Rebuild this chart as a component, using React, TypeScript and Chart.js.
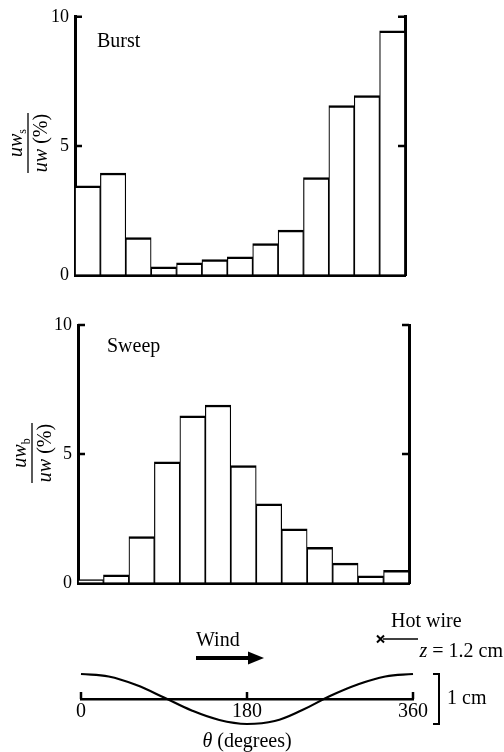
import React, { useEffect, useRef } from 'react';
import { Chart, registerables } from 'chart.js';

Chart.register(...registerables);

const FONT = "'Liberation Serif', 'Times New Roman', 'DejaVu Serif', serif";

// ---- data ----
const BINS = ['1', '2', '3', '4', '5', '6', '7', '8', '9', '10', '11', '12', '13'];
const BURST = [3.45, 3.95, 1.45, 0.32, 0.47, 0.6, 0.7, 1.22, 1.74, 3.77, 6.56, 6.95, 9.46];
const SWEEP = [0.13, 0.32, 1.8, 4.7, 6.48, 6.9, 4.55, 3.07, 2.1, 1.38, 0.77, 0.28, 0.49];
const Y_MIN = 0;
const Y_MAX = 10;
const Y_STEP = 5;
const THETA_MIN = 0;
const THETA_MAX = 360;
const THETA_STEP = 180;
const WAVE_DEG = [0, 30, 60, 90, 120, 150, 180, 210, 240, 270, 300, 330, 360];
const WAVE_CM = [0.5, 0.45, 0.28, 0.03, -0.23, -0.42, -0.5, -0.44, -0.22, 0.06, 0.29, 0.45, 0.5];

const W = 504;

type Seg = { t: string; italic?: boolean; sub?: boolean };

function segFont(s: Seg, size: number) {
  const sz = s.sub ? Math.round(size * 0.62) : size;
  return `${s.italic ? 'italic ' : ''}${sz}px ${FONT}`;
}

function drawSegs(ctx: CanvasRenderingContext2D, segs: Seg[], x: number, y: number, size: number, align: 'left' | 'center' | 'right') {
  ctx.save();
  ctx.textAlign = 'left';
  ctx.textBaseline = 'alphabetic';
  ctx.fillStyle = '#000';
  let total = 0;
  const widths = segs.map((s) => {
    ctx.font = segFont(s, size);
    const w = ctx.measureText(s.t).width;
    total += w;
    return w;
  });
  let cx = align === 'left' ? x : align === 'center' ? x - total / 2 : x - total;
  segs.forEach((s, i) => {
    ctx.font = segFont(s, size);
    ctx.fillText(s.t, cx, s.sub ? y + size * 0.22 : y);
    cx += widths[i];
  });
  ctx.restore();
}

function drawFraction(ctx: CanvasRenderingContext2D, cx: number, cy: number, num: Seg[], den: Seg[], size: number) {
  ctx.save();
  ctx.translate(cx, cy);
  ctx.rotate(-Math.PI / 2);
  drawSegs(ctx, num, 0, -6, size, 'center');
  drawSegs(ctx, den, 0, 19, size, 'center');
  ctx.beginPath();
  ctx.moveTo(-30, 0);
  ctx.lineTo(30, 0);
  ctx.lineWidth = 1.3;
  ctx.strokeStyle = '#000';
  ctx.stroke();
  ctx.restore();
}

type PanelGeo = {
  height: number;
  left: number;
  right: number;
  top: number;
  bottom: number;
  title: string;
  titleX: number;
  titleY: number;
  fracX: number;
  fracY: number;
  subscript: string;
};

function histConfig(values: number[], g: PanelGeo): any {
  const deco = {
    id: 'histDeco',
    afterDraw(chart: any) {
      const ctx: CanvasRenderingContext2D = chart.ctx;
      const ys = chart.scales.y;
      const { left, right } = chart.chartArea;
      ctx.save();
      ctx.strokeStyle = '#000';
      ctx.lineWidth = 2.5;
      ys.ticks.forEach((t: any) => {
        if (t.value <= Y_MIN) return;
        const py = ys.getPixelForValue(t.value);
        ctx.beginPath();
        ctx.moveTo(left, py);
        ctx.lineTo(left + 7, py);
        ctx.moveTo(right - 7, py);
        ctx.lineTo(right, py);
        ctx.stroke();
      });
      ctx.restore();
      drawSegs(ctx, [{ t: g.title }], g.titleX, g.titleY, 20, 'left');
      drawFraction(
        ctx,
        g.fracX,
        g.fracY,
        [{ t: 'uw', italic: true }, { t: g.subscript, sub: true }],
        [{ t: 'uw', italic: true }, { t: ' (%)' }],
        20
      );
    },
  };
  return {
    type: 'bar',
    data: {
      labels: BINS,
      datasets: [
        {
          data: values,
          backgroundColor: '#fff',
          borderColor: '#000',
          borderWidth: { top: 2.5, left: 1.2, right: 1.2, bottom: 0 },
          categoryPercentage: 1,
          barPercentage: 1,
        },
      ],
    },
    options: {
      animation: false,
      responsive: false,
      events: [],
      layout: { padding: { left: 0, right: W - g.right, top: g.top, bottom: g.height - g.bottom } },
      plugins: { legend: { display: false }, tooltip: { enabled: false } },
      scales: {
        x: {
          type: 'category',
          ticks: { display: false },
          grid: { display: true, drawOnChartArea: false, drawTicks: false },
          border: { display: true, color: '#000', width: 3 },
          afterFit: (s: any) => {
            s.height = 0;
          },
        },
        y: {
          type: 'linear',
          position: 'left',
          min: Y_MIN,
          max: Y_MAX,
          ticks: { stepSize: Y_STEP, font: { family: FONT, size: 18 }, color: '#000', padding: 6 },
          grid: { drawOnChartArea: false, drawTicks: false },
          border: { display: true, color: '#000', width: 3 },
          afterFit: (s: any) => {
            s.width = g.left;
          },
        },
        y2: {
          type: 'linear',
          position: 'right',
          min: Y_MIN,
          max: Y_MAX,
          ticks: { display: false, stepSize: Y_STEP },
          grid: { drawOnChartArea: false, drawTicks: false },
          border: { display: true, color: '#000', width: 3 },
          afterFit: (s: any) => {
            s.width = 0;
          },
        },
      },
    },
    plugins: [deco],
  };
}

function waveConfig(height: number): any {
  const deco = {
    id: 'waveDeco',
    afterDraw(chart: any) {
      const ctx: CanvasRenderingContext2D = chart.ctx;
      const xs = chart.scales.x;
      const ys = chart.scales.y;
      const base = ys.getPixelForValue(0);
      ctx.save();
      ctx.strokeStyle = '#000';
      ctx.fillStyle = '#000';
      // upward tick marks
      ctx.lineWidth = 2.5;
      xs.ticks.forEach((t: any) => {
        const px = xs.getPixelForValue(t.value);
        ctx.beginPath();
        ctx.moveTo(px, base);
        ctx.lineTo(px, base - 7);
        ctx.stroke();
      });
      // wind arrow
      ctx.lineWidth = 4;
      ctx.beginPath();
      ctx.moveTo(196, 58);
      ctx.lineTo(250, 58);
      ctx.stroke();
      ctx.beginPath();
      ctx.moveTo(248, 51.5);
      ctx.lineTo(264, 58);
      ctx.lineTo(248, 64.5);
      ctx.closePath();
      ctx.fill();
      // hot wire marker
      ctx.lineWidth = 1.6;
      ctx.beginPath();
      ctx.moveTo(383, 39);
      ctx.lineTo(418, 39);
      ctx.stroke();
      ctx.lineWidth = 2;
      ctx.beginPath();
      ctx.moveTo(377, 35.5);
      ctx.lineTo(384, 42.5);
      ctx.moveTo(384, 35.5);
      ctx.lineTo(377, 42.5);
      ctx.stroke();
      // 1 cm bracket
      const yTop = ys.getPixelForValue(0.5);
      const yBot = ys.getPixelForValue(-0.5);
      ctx.lineWidth = 2;
      ctx.beginPath();
      ctx.moveTo(433, yTop);
      ctx.lineTo(439, yTop);
      ctx.lineTo(439, yBot);
      ctx.lineTo(433, yBot);
      ctx.stroke();
      ctx.restore();

      drawSegs(ctx, [{ t: 'Wind' }], 196, 46, 20, 'left');
      drawSegs(ctx, [{ t: 'Hot wire' }], 391, 27, 20, 'left');
      drawSegs(ctx, [{ t: 'z', italic: true }, { t: ' = 1.2 cm' }], 503, 57, 20, 'right');
      drawSegs(ctx, [{ t: '1 cm' }], 447, 104, 20, 'left');
      drawSegs(
        ctx,
        [{ t: 'θ', italic: true }, { t: ' (degrees)' }],
        xs.getPixelForValue((THETA_MIN + THETA_MAX) / 2),
        147,
        20,
        'center'
      );
    },
  };
  return {
    type: 'line',
    data: {
      datasets: [
        {
          data: WAVE_DEG.map((d, i) => ({ x: d, y: WAVE_CM[i] })),
          borderColor: '#000',
          borderWidth: 2.2,
          pointRadius: 0,
          tension: 0.4,
          fill: false,
          clip: false,
        },
      ],
    },
    options: {
      animation: false,
      responsive: false,
      events: [],
      layout: { padding: { left: 81, right: W - 413, top: 74, bottom: height - 124 } },
      plugins: { legend: { display: false }, tooltip: { enabled: false } },
      scales: {
        x: {
          type: 'linear',
          min: THETA_MIN,
          max: THETA_MAX,
          position: { y: 0 },
          ticks: { stepSize: THETA_STEP, font: { family: FONT, size: 20 }, color: '#000', padding: 1, maxRotation: 0, autoSkip: false },
          grid: { display: true, drawOnChartArea: false, drawTicks: false },
          border: { display: true, color: '#000', width: 2.5 },
        },
        y: { type: 'linear', min: -0.5, max: 0.5, display: false },
      },
    },
    plugins: [deco],
  };
}

function ChartCanvas({ top, height, config }: { top: number; height: number; config: () => any }) {
  const ref = useRef<HTMLCanvasElement | null>(null);
  useEffect(() => {
    if (!ref.current) return;
    const chart = new Chart(ref.current, config());
    return () => chart.destroy();
  }, []);
  return (
    <div style={{ position: 'absolute', left: 0, top, width: W, height }}>
      <canvas ref={ref} width={W} height={height} style={{ display: 'block', width: W, height }} />
    </div>
  );
}

const TOP_GEO: PanelGeo = {
  height: 300,
  left: 75,
  right: 405,
  top: 16,
  bottom: 275,
  title: 'Burst',
  titleX: 97,
  titleY: 47,
  fracX: 28,
  fracY: 143,
  subscript: 's',
};

const BOTTOM_GEO: PanelGeo = {
  height: 300,
  left: 78,
  right: 409,
  top: 25,
  bottom: 283,
  title: 'Sweep',
  titleX: 107,
  titleY: 52,
  fracX: 32,
  fracY: 153,
  subscript: 'b',
};

export default function App() {
  return (
    <div style={{ position: 'fixed', left: 0, top: 0, width: W, height: 752, background: '#fff', overflow: 'hidden' }}>
      <ChartCanvas top={0} height={300} config={() => histConfig(BURST, TOP_GEO)} />
      <ChartCanvas top={300} height={300} config={() => histConfig(SWEEP, BOTTOM_GEO)} />
      <ChartCanvas top={600} height={152} config={() => waveConfig(152)} />
    </div>
  );
}
